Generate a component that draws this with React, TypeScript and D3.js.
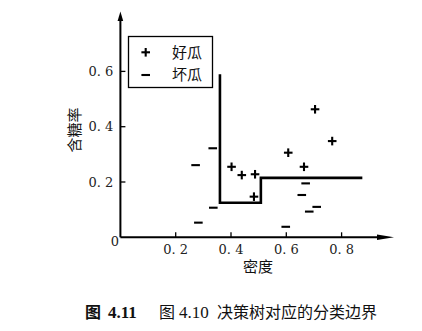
import React from "react";
import * as d3 from "d3";

const goodX = [0.704, 0.766, 0.607, 0.664, 0.402, 0.439, 0.487, 0.483];
const goodY = [0.463, 0.348, 0.306, 0.255, 0.255, 0.225, 0.228, 0.147];
const badX = [0.272, 0.334, 0.336, 0.282, 0.598, 0.670, 0.656, 0.683, 0.710];
const badY = [0.261, 0.322, 0.107, 0.053, 0.038, 0.195, 0.153, 0.093, 0.110];
const boundaryX = [0.36, 0.36, 0.508, 0.508, 0.875];
const boundaryY = [0.59, 0.125, 0.125, 0.215, 0.215];
const xTicks = [0.2, 0.4, 0.6, 0.8];
const yTicks = [0.2, 0.4, 0.6];
const xTickLabels = ["0. 2", "0. 4", "0. 6", "0. 8"];
const yTickLabels = ["0. 2", "0. 4", "0. 6"];
const legendLabels = ["好瓜", "坏瓜"];

const CJK = "'Noto Sans CJK SC', sans-serif";
const SERIF = "'DejaVu Serif', 'Liberation Serif', serif";

export default function App() {
  const x = d3.scaleLinear().domain([0, 1]).range([120.4, 120.4 + 276.5]);
  const y = d3.scaleLinear().domain([0, 1]).range([237.3, 237.3 - 276.5]);
  const x0 = x(0);
  const y0 = y(0);
  const line = d3
    .line<number>()
    .x((_, i) => x(boundaryX[i]))
    .y((d) => y(d))
    .curve(d3.curveLinear);
  const s = 4.3;
  return (
    <svg
      width={422}
      height={331}
      style={{ position: "absolute", left: 0, top: 0, background: "#fff" }}
    >
      {/* axes */}
      <line x1={x0} y1={y0} x2={x0} y2={20} stroke="#000" strokeWidth={2} />
      <path d={`M${x0},11.5 L${x0 - 2.8},21 L${x0 + 2.8},21 Z`} fill="#000" />
      <line x1={x0} y1={y0} x2={380} y2={y0} stroke="#000" strokeWidth={2} />
      <path d={`M394,${y0} L377,${y0 - 2.8} L377,${y0 + 2.8} Z`} fill="#000" />
      {xTicks.map((t, i) => (
        <g key={"xt" + i}>
          <line x1={x(t)} x2={x(t)} y1={y0} y2={y0 - 5} stroke="#000" strokeWidth={1.3} />
          <text
            x={x(t)}
            y={y0 + 17}
            textAnchor="middle"
            fontFamily={SERIF}
            fontSize={13}
            fill="#222"
          >
            {xTickLabels[i]}
          </text>
        </g>
      ))}
      {yTicks.map((t, i) => (
        <g key={"yt" + i}>
          <line x1={x0} x2={x0 + 5} y1={y(t)} y2={y(t)} stroke="#000" strokeWidth={1.3} />
          <text
            x={x0 - 7}
            y={y(t) + 4.5}
            textAnchor="end"
            fontFamily={SERIF}
            fontSize={13}
            fill="#222"
          >
            {yTickLabels[i]}
          </text>
        </g>
      ))}
      <text x={115} y={y0 + 9} textAnchor="middle" fontFamily={SERIF} fontSize={13} fill="#222">
        0
      </text>
      <text x={258} y={272} textAnchor="middle" fontFamily={CJK} fontSize={15} fill="#111">
        密度
      </text>
      <text
        transform={`translate(80,130) rotate(-90)`}
        textAnchor="middle"
        fontFamily={CJK}
        fontSize={15}
        fill="#111"
      >
        含糖率
      </text>

      {/* boundary */}
      <path d={line(boundaryY) || ""} fill="none" stroke="#000" strokeWidth={2.6} />

      {/* points */}
      {goodX.map((gx, i) => (
        <g key={"g" + i} stroke="#000" strokeWidth={2.1}>
          <line x1={x(gx) - s} x2={x(gx) + s} y1={y(goodY[i])} y2={y(goodY[i])} />
          <line x1={x(gx)} x2={x(gx)} y1={y(goodY[i]) - s} y2={y(goodY[i]) + s} />
        </g>
      ))}
      {badX.map((bx, i) => (
        <line
          key={"b" + i}
          x1={x(bx) - s}
          x2={x(bx) + s}
          y1={y(badY[i])}
          y2={y(badY[i])}
          stroke="#000"
          strokeWidth={2.1}
        />
      ))}

      {/* legend */}
      <rect x={128.5} y={36.5} width={84} height={51} fill="#fff" stroke="#000" strokeWidth={1.3} />
      <g stroke="#000" strokeWidth={2.1}>
        <line x1={145.7 - s} x2={145.7 + s} y1={52.3} y2={52.3} />
        <line x1={145.7} x2={145.7} y1={52.3 - s} y2={52.3 + s} />
        <line x1={145.7 - s} x2={145.7 + s} y1={75} y2={75} />
      </g>
      {legendLabels.map((l, i) => (
        <text
          key={l}
          x={187}
          y={57.5 + i * 22.7}
          textAnchor="middle"
          fontFamily={CJK}
          fontSize={15}
          fill="#111"
        >
          {l}
        </text>
      ))}

      {/* caption */}
      <g fill="#111">
        <text x={85} y={318} fontFamily={CJK} fontSize={16} fontWeight="bold">图</text>
        <text x={108} y={318} fontFamily="'Liberation Serif', serif" fontSize={17} fontWeight="bold">4.11</text>
        <text x={159} y={318} fontFamily={CJK} fontSize={16}>图</text>
        <text x={179} y={318} fontFamily="'Liberation Serif', serif" fontSize={17}>4.10</text>
        <text x={217} y={318} fontFamily={CJK} fontSize={16}>决策树对应的分类边界</text>
      </g>
    </svg>
  );
}
